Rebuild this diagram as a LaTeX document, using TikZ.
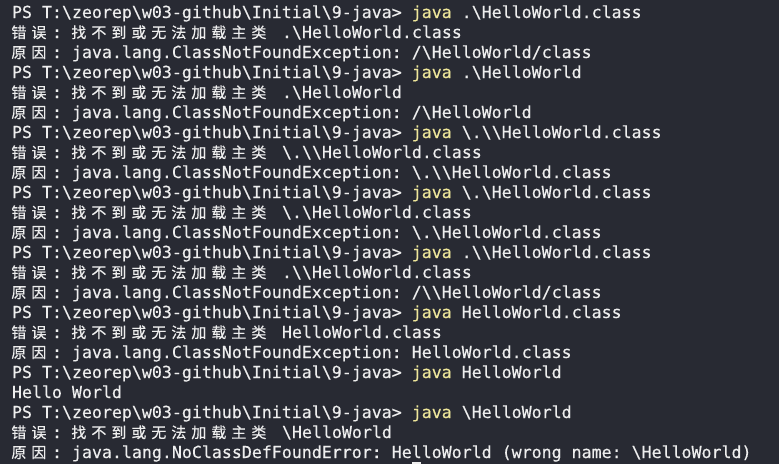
\documentclass[tikz,border=0pt]{standalone}
\usepackage{fontspec}
\usepackage{xcolor}
\newfontfamily\monof[FakeBold=0.35]{DejaVu Sans Mono}
\newfontfamily\cjkf[FakeBold=0.5]{Noto Sans CJK SC}
\definecolor{bg}{HTML}{282A33}
\definecolor{fg}{HTML}{EEEEEE}
\definecolor{yl}{HTML}{EEE69A}
\newcommand\bs{\textbackslash}
\newcommand\cj[1]{\makebox[20pt][l]{\hspace{-0.6pt}\fontsize{15}{15}\selectfont\cjkf #1}}
\newcommand\prompt{PS T:\bs zeorep\bs w03-github\bs Initial\bs 9-java> }
\newcommand\cmd[1]{\prompt{\color{yl}java} #1}
\newcommand\errpre{\cj{错}\cj{误}: \cj{找}\cj{不}\cj{到}\cj{或}\cj{无}\cj{法}\cj{加}\cj{载}\cj{主}\cj{类} }
\newcommand\causepre{\cj{原}\cj{因}: java.lang.}
\begin{document}
\begin{tikzpicture}[x=1pt,y=1pt,
  ln/.style={anchor=base west, inner sep=0pt, outer sep=0pt, text=fg,
    font=\fontsize{16.6}{20}\selectfont\monof\frenchspacing}]
\fill[bg] (0,0) rectangle (779,-464);
\useasboundingbox (0,0) rectangle (779,-464);
\node[ln] (l1)  at (12,-18)  {\cmd{.\bs HelloWorld.class}};
\node[ln] (l2)  at (12,-38)  {\errpre .\bs HelloWorld.class};
\node[ln] (l3)  at (12,-58)  {\causepre ClassNotFoundException: /\bs HelloWorld/class};
\node[ln] (l4)  at (12,-78)  {\cmd{.\bs HelloWorld}};
\node[ln] (l5)  at (12,-98)  {\errpre .\bs HelloWorld};
\node[ln] (l6)  at (12,-118) {\causepre ClassNotFoundException: /\bs HelloWorld};
\node[ln] (l7)  at (12,-138) {\cmd{\bs.\bs\bs HelloWorld.class}};
\node[ln] (l8)  at (12,-158) {\errpre \bs.\bs\bs HelloWorld.class};
\node[ln] (l9)  at (12,-178) {\causepre ClassNotFoundException: \bs.\bs\bs HelloWorld.class};
\node[ln] (l10) at (12,-198) {\cmd{\bs.\bs HelloWorld.class}};
\node[ln] (l11) at (12,-218) {\errpre \bs.\bs HelloWorld.class};
\node[ln] (l12) at (12,-238) {\causepre ClassNotFoundException: \bs.\bs HelloWorld.class};
\node[ln] (l13) at (12,-258) {\cmd{.\bs\bs HelloWorld.class}};
\node[ln] (l14) at (12,-278) {\errpre .\bs\bs HelloWorld.class};
\node[ln] (l15) at (12,-298) {\causepre ClassNotFoundException: /\bs\bs HelloWorld/class};
\node[ln] (l16) at (12,-318) {\cmd{HelloWorld.class}};
\node[ln] (l17) at (12,-338) {\errpre HelloWorld.class};
\node[ln] (l18) at (12,-358) {\causepre ClassNotFoundException: HelloWorld.class};
\node[ln] (l19) at (12,-378) {\cmd{HelloWorld}};
\node[ln] (l20) at (12,-398) {Hello World};
\node[ln] (l21) at (12,-418) {\cmd{\bs HelloWorld}};
\node[ln] (l22) at (12,-438) {\errpre \bs HelloWorld};
\node[ln] (l23) at (12,-458) {\causepre NoClassDefFoundError: HelloWorld (wrong name: \bs HelloWorld)};
\fill[fg] (412,-462) rectangle (421,-464);
\end{tikzpicture}
\end{document}
